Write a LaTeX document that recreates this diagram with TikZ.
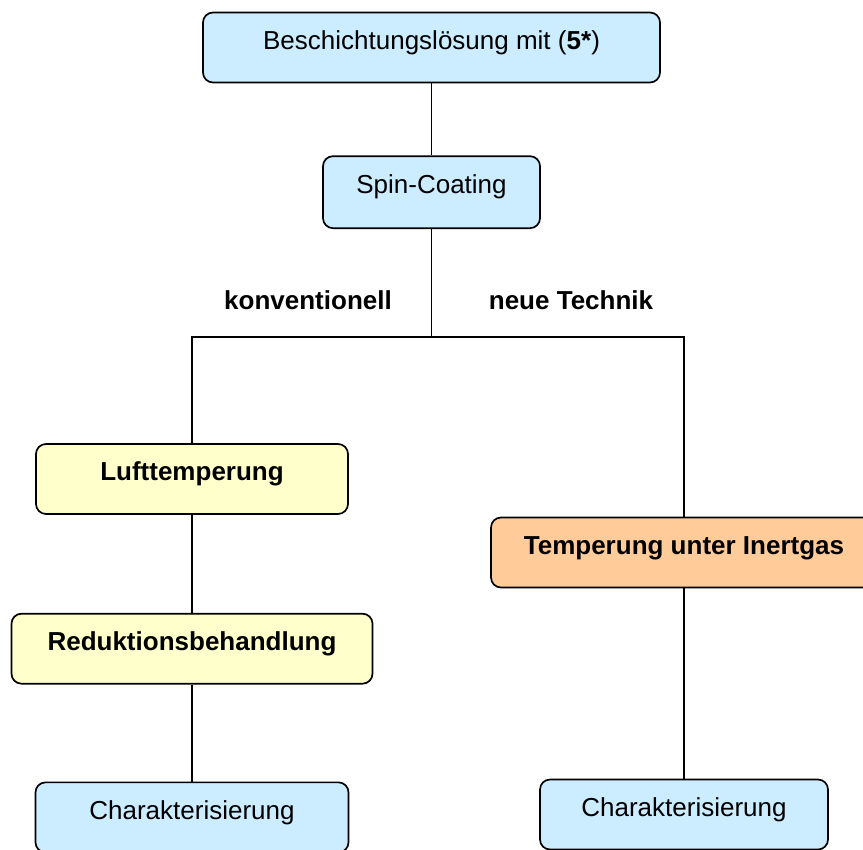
\documentclass[tikz,border=0pt]{standalone}
\usepackage{fontspec}
\setmainfont{Liberation Sans}
\usetikzlibrary{positioning}
\definecolor{BoxBlue}{HTML}{CCECFF}
\definecolor{BoxYellow}{HTML}{FFFFCC}
\definecolor{BoxOrange}{HTML}{FFCC99}

\begin{document}
\begin{tikzpicture}[node distance=2cm,line width=1.2pt,
    box/.style={draw,rounded corners=0.25cm,minimum height=1.75cm,font=\fontsize{18.5}{22}\selectfont,text height=0.7em,text depth=0.45em},
    lbl/.style={font=\fontsize{18.5}{22}\selectfont\bfseries}]
    \useasboundingbox (0,0) rectangle (21.575,-21.225);
    \node[box,fill=BoxBlue,minimum width=11.425cm] (coat) at (10.7875,-1.1875) {Beschichtungslösung mit (\textbf{5*})};
    \node[box,fill=BoxBlue,below=1.8cm of coat,minimum width=5.425cm,minimum height=1.8cm] (spin) {Spin-Coating};
    \coordinate (split) at (10.7875,-8.425);
    \node[lbl] (konv) at (7.7,-7.5) {konventionell};
    \node[lbl] (neu) at (14.275,-7.5) {neue Technik};
    \node[box,fill=BoxYellow,font=\fontsize{18.5}{22}\selectfont\bfseries,minimum width=7.8cm] (luft) at (4.8,-11.975) {Lufttemperung};
    \node[box,fill=BoxYellow,font=\fontsize{18.5}{22}\selectfont\bfseries,below=2.45cm of luft,minimum width=9.025cm] (reduk) {Reduktionsbehandlung};
    \node[box,fill=BoxBlue,below=2.425cm of reduk,minimum width=7.825cm] (charL) {Charakterisierung};
    \node[box,fill=BoxOrange,font=\fontsize{18.5}{22}\selectfont\bfseries,minimum width=9.65cm] (inert) at (17.1,-13.8125) {Temperung unter Inertgas};
    \node[box,fill=BoxBlue,minimum width=7.2cm] (charR) at (17.1,-20.3625) {Charakterisierung};
    % connectors
    \draw (coat) -- (spin);
    \draw (spin) -- (split);
    \draw (luft.north) |- (split) -| (inert.north);
    \draw (luft) -- (reduk);
    \draw (reduk) -- (charL);
    \draw (inert) -- (charR);
\end{tikzpicture}
\end{document}
